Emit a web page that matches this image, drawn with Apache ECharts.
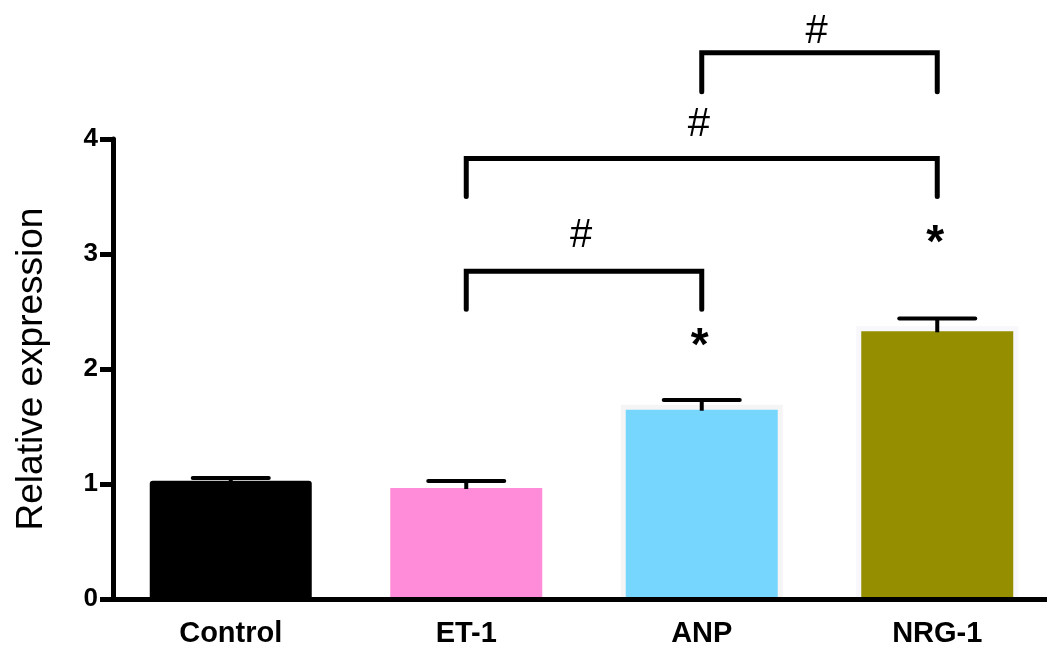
<!DOCTYPE html>
<html>
<head>
<meta charset="utf-8">
<script src="https://cdn.jsdelivr.net/npm/echarts@6/dist/echarts.min.js"></script>
<style>
  html, body { margin: 0; padding: 0; background: #fff; }
  #chart { width: 1047px; height: 647px; }
</style>
</head>
<body>
<div id="chart"></div>
<script>
// Groups and measured relative expression (mean and SEM)
const categories = ['Control', 'ET-1', 'ANP', 'NRG-1'];
const means = [0.985, 0.965, 1.646, 2.328];
const sems = [0.067, 0.061, 0.084, 0.112];
const barColors = ['#000000', '#ff8cd8', '#76d6fe', '#958f00'];
const barEdgeColors = ['#000000', '#ffffff', '#f5f5f5', '#f7f7fc'];

// Y axis ticks
const yTicks = [0, 1, 2, 3, 4];

// Pairwise comparison brackets: [left group, right group, bar height, leg bottom]
const bracketFrom = [1, 1, 2];
const bracketTo = [2, 3, 3];
const bracketTop = [2.85, 3.83, 4.75];
const bracketLeg = [2.52, 3.50, 4.41];
const bracketMarkY = [3.157, 4.12, 4.93];
const bracketMark = '#';

// Significance vs. control
const starGroups = [2, 3];
const starY = [2.19, 3.08];
const starMark = '*';

const FONT = '"Liberation Sans", Arial, sans-serif';
const BAR_W = 152;
const EDGE = 5;

const chart = echarts.init(document.getElementById('chart'), null, { renderer: 'canvas' });

const barData = means.map((v, i) => ({ value: v, itemStyle: { color: barColors[i] } }));
const edgeData = means.map((v, i) => [i, v]);
const errorData = means.map((v, i) => [i, v, v + sems[i]]);
const bracketData = bracketFrom.map((f, i) => [f, bracketTop[i], bracketTo[i], bracketLeg[i], bracketMarkY[i]]);
const starData = starGroups.map((g, i) => [g, starY[i]]);

chart.setOption({
  animation: false,
  backgroundColor: '#ffffff',
  grid: { left: 113, top: 139, bottom: 48, width: 942, containLabel: false, outerBoundsMode: 'none' },
  xAxis: {
    type: 'category',
    data: categories,
    boundaryGap: true,
    z: 5,
    axisLine: { lineStyle: { color: '#000', width: 5 } },
    axisTick: { alignWithLabel: true, length: 13, lineStyle: { color: '#000', width: 5 } },
    axisLabel: { color: '#000', fontFamily: FONT, fontWeight: 'bold', fontSize: 29, margin: 20 },
    splitLine: { show: false }
  },
  yAxis: {
    type: 'value',
    min: yTicks[0],
    max: yTicks[yTicks.length - 1],
    interval: 1,
    z: 5,
    name: 'Relative expression',
    nameLocation: 'middle',
    nameGap: 63,
    nameTextStyle: { color: '#000', fontFamily: FONT, fontSize: 37 },
    axisLine: { show: true, lineStyle: { color: '#000', width: 5 } },
    axisTick: { show: true, length: 13, lineStyle: { color: '#000', width: 5 } },
    axisLabel: { color: '#000', fontFamily: FONT, fontWeight: 'bold', fontSize: 26, margin: 15 },
    splitLine: { show: false }
  },
  series: [
    {
      // Thin outline drawn around each bar
      type: 'custom',
      data: edgeData,
      encode: { x: 0, y: 1 },
      z: 1,
      renderItem: function (params, api) {
        const i = params.dataIndex;
        const top = api.coord([api.value(0), api.value(1)]);
        const base = api.coord([api.value(0), 0]);
        const w = BAR_W + 2 * EDGE;
        return {
          type: 'rect',
          shape: { x: top[0] - w / 2, y: top[1] - EDGE, width: w, height: base[1] - top[1] + EDGE,
                   r: i === 0 ? [3, 3, 0, 0] : 0 },
          style: { fill: barEdgeColors[i] }
        };
      }
    },
    {
      type: 'bar',
      data: barData,
      barWidth: BAR_W,
      z: 2
    },
    {
      // SEM error bars: stem plus cap
      type: 'custom',
      data: errorData,
      encode: { x: 0, y: [1, 2] },
      z: 3,
      renderItem: function (params, api) {
        const base = api.coord([api.value(0), api.value(1)]);
        const top = api.coord([api.value(0), api.value(2)]);
        const half = 38;
        return {
          type: 'group',
          children: [
            { type: 'line', shape: { x1: top[0], y1: base[1] + 1, x2: top[0], y2: top[1] },
              style: { stroke: '#000', lineWidth: 4 } },
            { type: 'line', shape: { x1: top[0] - half, y1: top[1], x2: top[0] + half, y2: top[1] },
              style: { stroke: '#000', lineWidth: 4, lineCap: 'round' } }
          ]
        };
      }
    },
    {
      // Comparison brackets with their marks
      type: 'custom',
      data: bracketData,
      encode: { x: 0, y: 1 },
      clip: false,
      z: 3,
      renderItem: function (params, api) {
        const a = api.coord([api.value(0), api.value(1)]);
        const b = api.coord([api.value(2), api.value(1)]);
        const leg = api.coord([api.value(0), api.value(3)]);
        const markY = api.coord([api.value(0), api.value(4)])[1];
        return {
          type: 'group',
          children: [
            { type: 'polyline',
              shape: { points: [[a[0], leg[1]], [a[0], a[1]], [b[0], b[1]], [b[0], leg[1]]] },
              style: { stroke: '#000', lineWidth: 5, fill: 'none', lineJoin: 'miter', lineCap: 'round' } },
            { type: 'text', x: (a[0] + b[0]) / 2 - 3, y: markY,
              style: { text: bracketMark, fill: '#000', fontFamily: FONT, fontSize: 40,
                       align: 'center', verticalAlign: 'middle' } }
          ]
        };
      }
    },
    {
      // Asterisks over groups differing from control
      type: 'custom',
      data: starData,
      encode: { x: 0, y: 1 },
      clip: false,
      z: 3,
      renderItem: function (params, api) {
        const p = api.coord([api.value(0), api.value(1)]);
        return {
          type: 'text', x: p[0] - 2, y: p[1],
          style: { text: starMark, fill: '#000', fontFamily: FONT, fontSize: 46, fontWeight: 'bold',
                   align: 'center', verticalAlign: 'middle' }
        };
      }
    }
  ]
});
</script>
</body>
</html>
